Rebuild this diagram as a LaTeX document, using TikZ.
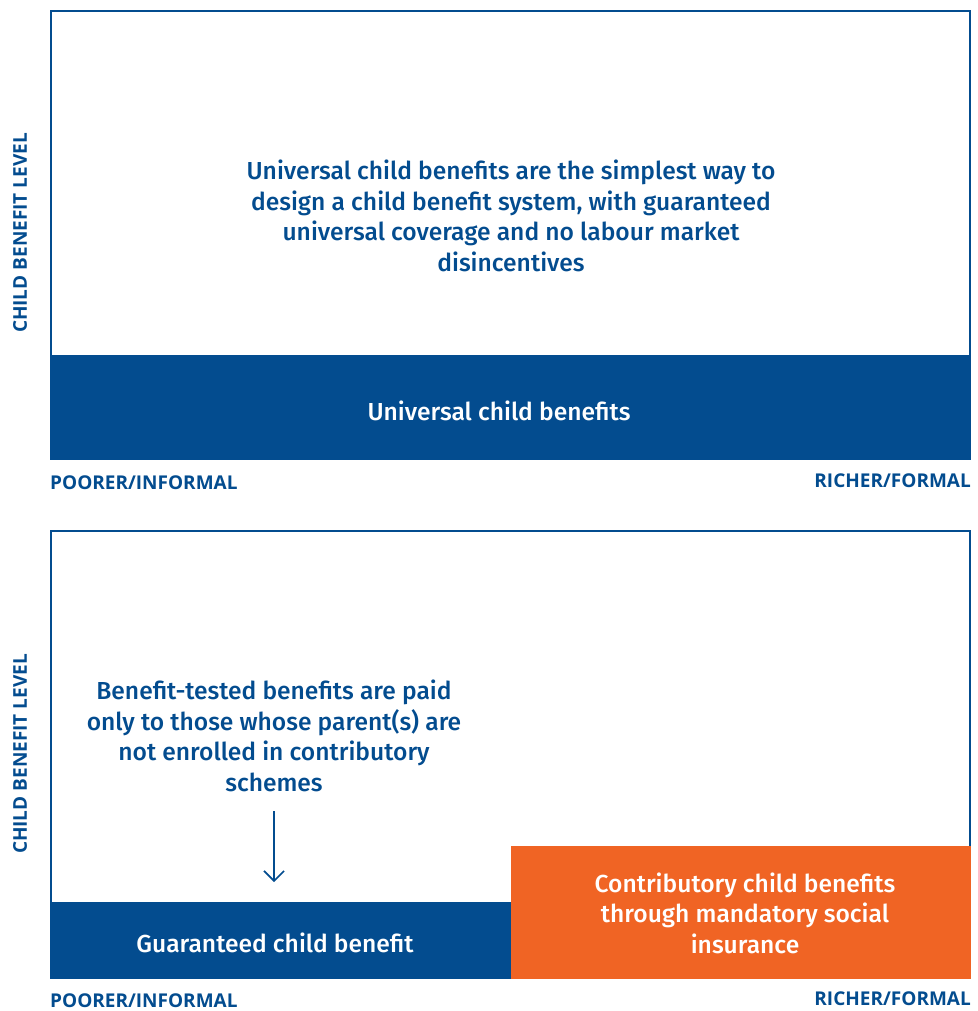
\documentclass[tikz,border=0pt]{standalone}
\usepackage{fontspec}
\setmainfont{Fira Sans}[UprightFont=* Medium]
\newfontfamily\axisfont{Open Sans}[UprightFont=* Bold]
\definecolor{ublue}{RGB}{3,76,143}
\definecolor{uorange}{RGB}{240,100,36}
\usetikzlibrary{arrows.meta}
\begin{document}
\begin{tikzpicture}[x=1pt,y=-1pt,
  frame/.style={draw=ublue,line width=2pt},
  bluebar/.style={fill=ublue,draw=none},
  orangebar/.style={fill=uorange,draw=none},
  bodytext/.style={text=ublue,align=center,font=\fontsize{24.6}{30.5}\selectfont},
  bartext/.style={text=white,align=center,font=\fontsize{24.6}{30.5}\selectfont},
  axislabel/.style={text=ublue,font=\axisfont\fontsize{19}{21}\selectfont,inner sep=0pt},
  arrowline/.style={draw=ublue,line width=1.6pt,-{Straight Barb[length=10pt,width=20pt,line width=1.6pt]}}]
\useasboundingbox (0,0) rectangle (977,1011);
% top panel
\draw[frame] (51,11) rectangle (970,459);
\fill[bluebar] (50,355) rectangle (971,460);
\node[bartext] (ub) at (499,411) {Universal child benefits};
\node[bodytext] (ut) at (511,216) {Universal child benefits are the simplest way to\\design a child benefit system, with guaranteed\\universal coverage and no labour market\\disincentives};
\node[axislabel,rotate=90] (yl1) at (20,233) {CHILD BENEFIT LEVEL};
\node[axislabel,anchor=west] (p1) at (50,483) {POORER/INFORMAL};
\node[axislabel,anchor=east] (r1) at (971,481) {RICHER/FORMAL};
% bottom panel
\draw[frame] (51,531) rectangle (970,978);
\fill[bluebar] (50,902) rectangle (511,979);
\fill[orangebar] (511,846) rectangle (971,979);
\node[bartext] (gb) at (275,943) {Guaranteed child benefit};
\node[bartext] (cb) at (745,913) {Contributory child benefits\\through mandatory social\\insurance};
\node[bodytext] (bt) at (274,736) {Benefit-tested benefits are paid\\only to those whose parent(s) are\\not enrolled in contributory\\schemes};
\coordinate (as) at (274,811);
\coordinate (ae) at (274,882);
\draw[arrowline] (as) -- (ae);
\node[axislabel,rotate=90] (yl2) at (20,754) {CHILD BENEFIT LEVEL};
\node[axislabel,anchor=west] (p2) at (50,1001) {POORER/INFORMAL};
\node[axislabel,anchor=east] (r2) at (971,999) {RICHER/FORMAL};
\end{tikzpicture}
\end{document}
